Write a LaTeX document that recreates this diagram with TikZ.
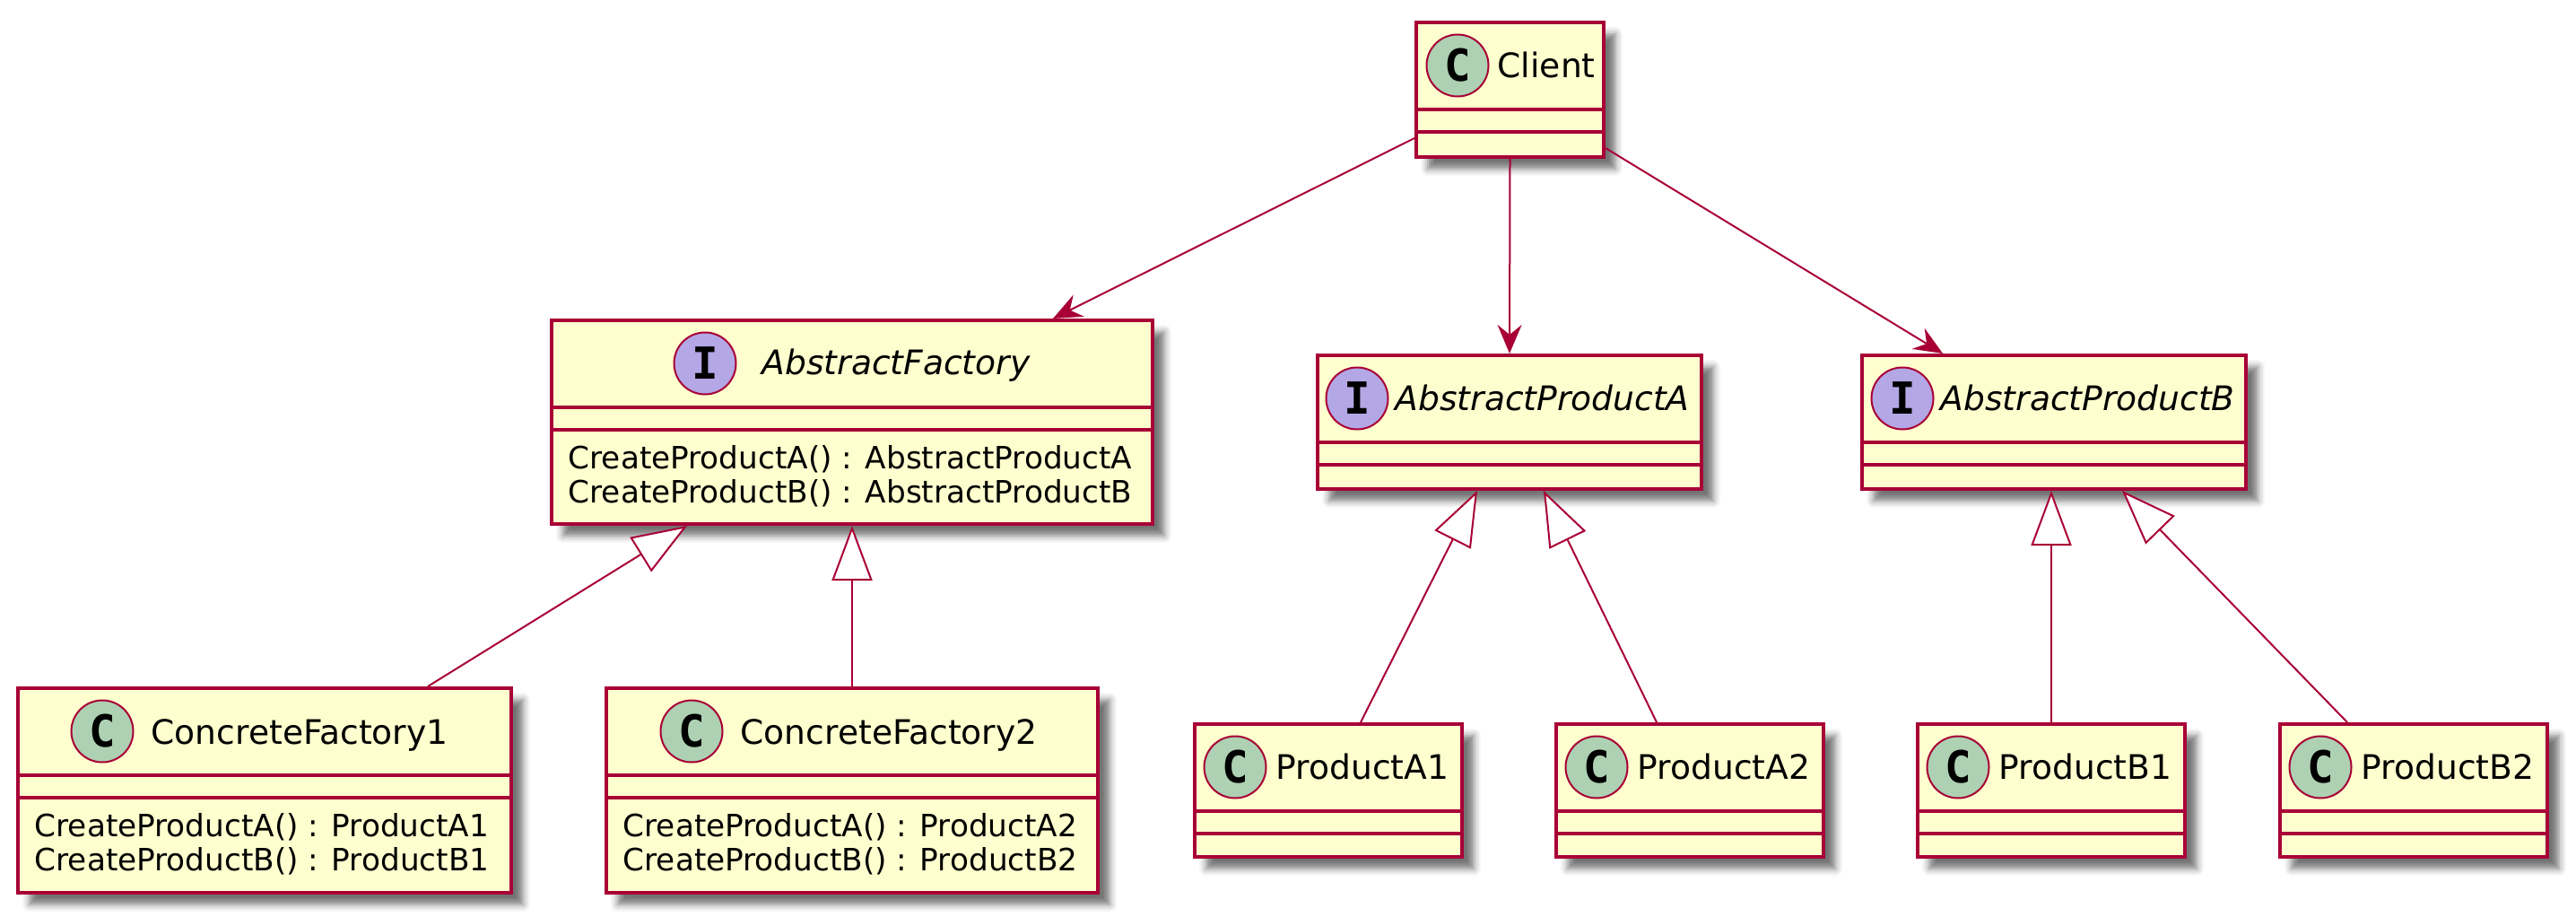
\documentclass[tikz,border=0pt]{standalone}
\usepackage{fontspec}
\setmainfont{DejaVu Sans}[ItalicFont={DejaVu Sans Oblique}]
\newfontfamily\letterfont{DejaVu Sans Mono}
\usetikzlibrary{arrows.meta,shadows.blur}

\definecolor{umlred}{HTML}{A80036}
\definecolor{umlyellow}{HTML}{FEFECE}
\definecolor{classgreen}{HTML}{ADD1B2}
\definecolor{ifaceblue}{HTML}{B4A7E5}

\begin{document}
\begin{tikzpicture}[
  box/.style={draw=umlred, fill=umlyellow, line width=0.04cm, anchor=north west, inner sep=0pt,
    blur shadow={shadow xshift=0.13cm, shadow yshift=-0.13cm, shadow blur radius=0.08cm, shadow opacity=55}},
  bar/.style={draw=umlred, line width=0.04cm},
  badge/.style={circle, draw=umlred, line width=0.02cm, minimum size=0.69cm, inner sep=0pt,
    font=\letterfont\bfseries\fontsize{14}{14}\selectfont},
  cls/.style={badge, fill=classgreen},
  iface/.style={badge, fill=ifaceblue},
  title/.style={anchor=base west, inner sep=0pt, font=\fontsize{10.7}{12}\selectfont},
  members/.style={anchor=north west, inner sep=0pt, align=left, font=\fontsize{9.75}{10.8}\selectfont},
  uses/.style={draw=umlred, line width=0.02cm, -{Stealth[length=0.32cm, width=0.27cm, inset=0.11cm]}},
  extends/.style={draw=umlred, line width=0.02cm, -{Triangle[length=0.61cm, width=0.45cm, fill=white]}}
]

  \useasboundingbox (0,0) rectangle (28.72,-10.22);

  % Classes
  \node[box, minimum width=2.09cm, minimum height=1.50cm] (client) at (15.77,-0.23) {};
  \node[box, minimum width=6.70cm, minimum height=2.27cm] (af)     at (6.13,-3.55)   {};
  \node[box, minimum width=4.28cm, minimum height=1.49cm] (apa)    at (14.67,-3.94)  {};
  \node[box, minimum width=4.28cm, minimum height=1.49cm] (apb)    at (20.74,-3.94)  {};
  \node[box, minimum width=5.50cm, minimum height=2.28cm] (cf1)    at (0.18,-7.65)   {};
  \node[box, minimum width=5.48cm, minimum height=2.28cm] (cf2)    at (6.74,-7.65)   {};
  \node[box, minimum width=2.98cm, minimum height=1.48cm] (pa1)    at (13.30,-8.05)  {};
  \node[box, minimum width=2.98cm, minimum height=1.48cm] (pa2)    at (17.33,-8.05)  {};
  \node[box, minimum width=2.98cm, minimum height=1.48cm] (pb1)    at (21.36,-8.05)  {};
  \node[box, minimum width=2.98cm, minimum height=1.48cm] (pb2)    at (25.40,-8.05)  {};

  % Compartments
  \foreach \c in {client,af,apa,apb,cf1,cf2,pa1,pa2,pb1,pb2}
    \foreach \d in {0.99,1.24}
      \draw[bar] ([yshift=-\d cm]\c.north west) -- ([yshift=-\d cm]\c.north east);

  % Headers
  \node[cls]   (clientC) at (16.25,-0.73) {C};
  \node[title] (clientT) at (16.69,-0.87) {Client};
  \node[iface] (afI)     at (7.86,-4.05)  {I};
  \node[title] (afT)     at (8.49,-4.18)  {\itshape AbstractFactory};
  \node[iface] (apaI)    at (15.13,-4.44) {I};
  \node[title] (apaT)    at (15.55,-4.57) {\itshape AbstractProductA};
  \node[iface] (apbI)    at (21.21,-4.44) {I};
  \node[title] (apbT)    at (21.63,-4.57) {\itshape AbstractProductB};
  \node[cls]   (cf1C)    at (1.14,-8.15)  {C};
  \node[title] (cf1T)    at (1.68,-8.29)  {ConcreteFactory1};
  \node[cls]   (cf2C)    at (7.71,-8.15)  {C};
  \node[title] (cf2T)    at (8.25,-8.29)  {ConcreteFactory2};
  \node[cls]   (pa1C)    at (13.77,-8.55) {C};
  \node[title] (pa1T)    at (14.22,-8.68) {ProductA1};
  \node[cls]   (pa2C)    at (17.80,-8.55) {C};
  \node[title] (pa2T)    at (18.25,-8.68) {ProductA2};
  \node[cls]   (pb1C)    at (21.83,-8.55) {C};
  \node[title] (pb1T)    at (22.28,-8.68) {ProductB1};
  \node[cls]   (pb2C)    at (25.87,-8.55) {C};
  \node[title] (pb2T)    at (26.32,-8.68) {ProductB2};

  % Methods
  \node[members] (afM)  at (6.33,-4.96) {CreateProductA() : AbstractProductA\\CreateProductB() : AbstractProductB};
  \node[members] (cf1M) at (0.38,-9.06) {CreateProductA() : ProductA1\\CreateProductB() : ProductB1};
  \node[members] (cf2M) at (6.94,-9.06) {CreateProductA() : ProductA2\\CreateProductB() : ProductB2};

  % Arrows
  \draw[uses] ([yshift=-0.54cm]client.west) -- ([xshift=2.24cm]af.north);
  \draw[uses] (client.south) -- (apa.north);
  \draw[uses] ([yshift=-0.65cm]client.east) -- ([xshift=-1.24cm]apb.north);

  \draw[extends] ([xshift=1.82cm]cf1.north)  -- ([xshift=-1.84cm]af.south);
  \draw[extends] (cf2.north) -- (cf2.north |- af.south);
  \draw[extends] ([xshift=0.36cm]pa1.north)  -- ([xshift=-0.36cm]apa.south);
  \draw[extends] ([xshift=-0.37cm]pa2.north) -- ([xshift=0.38cm]apa.south);
  \draw[extends] (pb1.north) -- (pb1.north |- apb.south);
  \draw[extends] ([xshift=-0.74cm]pb2.north) -- ([xshift=0.76cm]apb.south);

\end{tikzpicture}
\end{document}
